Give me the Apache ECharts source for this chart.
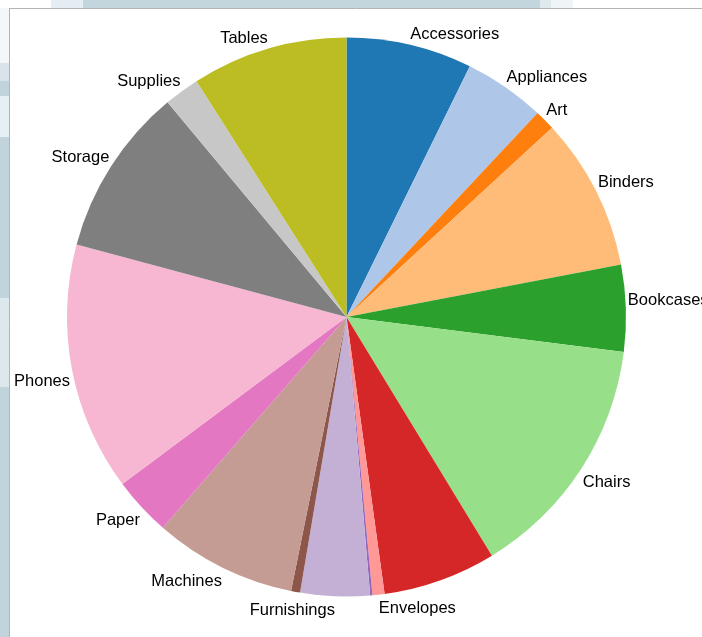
<!DOCTYPE html>
<html>
<head>
<meta charset="utf-8">
<script src="https://cdn.jsdelivr.net/npm/echarts@6/dist/echarts.min.js"></script>
<style>
html,body{margin:0;padding:0;background:#fff;}
#chart{width:702px;height:637px;}
</style>
</head>
<body>
<div id="chart"></div>
<script>
// Sales by sub-category (thousands)
var categories = ["Accessories","Appliances","Art","Binders","Bookcases","Chairs","Copiers","Envelopes","Fasteners","Furnishings","Labels","Machines","Paper","Phones","Storage","Supplies","Tables"];
var values = [167, 108, 27, 203, 115, 328, 150, 16, 3, 92, 12, 189, 78, 330, 224, 47, 207];
var shownLabels = ["Accessories","Appliances","Art","Binders","Bookcases","Chairs","Envelopes","Furnishings","Machines","Paper","Phones","Storage","Supplies","Tables"];
var colors = ["#1f77b4","#aec7e8","#ff7f0e","#ffbb78","#2ca02c","#98df8a","#d62728","#ff9896","#9467bd","#c5b0d5","#8c564b","#c49c94","#e377c2","#f7b6d2","#7f7f7f","#c7c7c7","#bcbd22"];

var total = values.reduce(function(a, b){ return a + b; }, 0);
var cum = 0;
var upperHalf = [];
var data = categories.map(function(c, i){
  var mid = (cum + values[i] / 2) / total * 2 * Math.PI; // clockwise from top
  cum += values[i];
  upperHalf.push(Math.cos(mid) > 0);
  return {
    name: c,
    value: values[i],
    label: { show: shownLabels.indexOf(c) >= 0 }
  };
});

var chart = echarts.init(document.getElementById('chart'), null, {renderer:'canvas'});
chart.setOption({
  animation: false,
  backgroundColor: '#ffffff',
  color: colors,
  graphic: [
    {type:'rect', shape:{x:51,y:0,width:32,height:8}, style:{fill:'#e4edf1'}, z:-9},
    {type:'rect', shape:{x:83,y:0,width:457,height:8}, style:{fill:'#c3d5dd'}, z:-9},
    {type:'rect', shape:{x:540,y:0,width:11,height:8}, style:{fill:'#dfe9ed'}, z:-9},
    {type:'rect', shape:{x:551,y:0,width:22,height:8}, style:{fill:'#eef4f7'}, z:-9},
    {type:'rect', shape:{x:0,y:8,width:9,height:55}, style:{fill:'#f3f7f9'}, z:-9},
    {type:'rect', shape:{x:0,y:63,width:9,height:18}, style:{fill:'#d8e4e9'}, z:-9},
    {type:'rect', shape:{x:0,y:81,width:9,height:15}, style:{fill:'#c2d4db'}, z:-9},
    {type:'rect', shape:{x:0,y:96,width:9,height:41}, style:{fill:'#e6eff3'}, z:-9},
    {type:'rect', shape:{x:0,y:137,width:9,height:161}, style:{fill:'#c1d4db'}, z:-9},
    {type:'rect', shape:{x:0,y:298,width:9,height:89}, style:{fill:'#dde8ec'}, z:-9},
    {type:'rect', shape:{x:0,y:387,width:9,height:250}, style:{fill:'#c1d4db'}, z:-9},
    {type:'line', shape:{x1:9.5,y1:8,x2:9.5,y2:637}, style:{stroke:'#b4b4b4',lineWidth:1}, z:-8},
    {type:'line', shape:{x1:9,y1:8.5,x2:702,y2:8.5}, style:{stroke:'#b4b4b4',lineWidth:1}, z:-8}
  ],
  series: [{
    type: 'pie',
    center: [346.5, 317],
    radius: 279.5,
    startAngle: 90,
    clockwise: true,
    avoidLabelOverlap: false,
    minShowLabelAngle: 0,
    itemStyle: {borderWidth: 0},
    label: {
      show: true,
      position: 'outside',
      fontFamily: 'Liberation Sans, Arial, sans-serif',
      fontSize: 16.5,
      color: '#000',
      distanceToLabelLine: 0
    },
    labelLine: {show: false, length: 2, length2: 0},
    labelLayout: function (p) {
      return { dy: upperHalf[p.dataIndex] ? -8 : 12 };
    },
    emphasis: {disabled: true},
    data: data
  }]
});
</script>
</body>
</html>
